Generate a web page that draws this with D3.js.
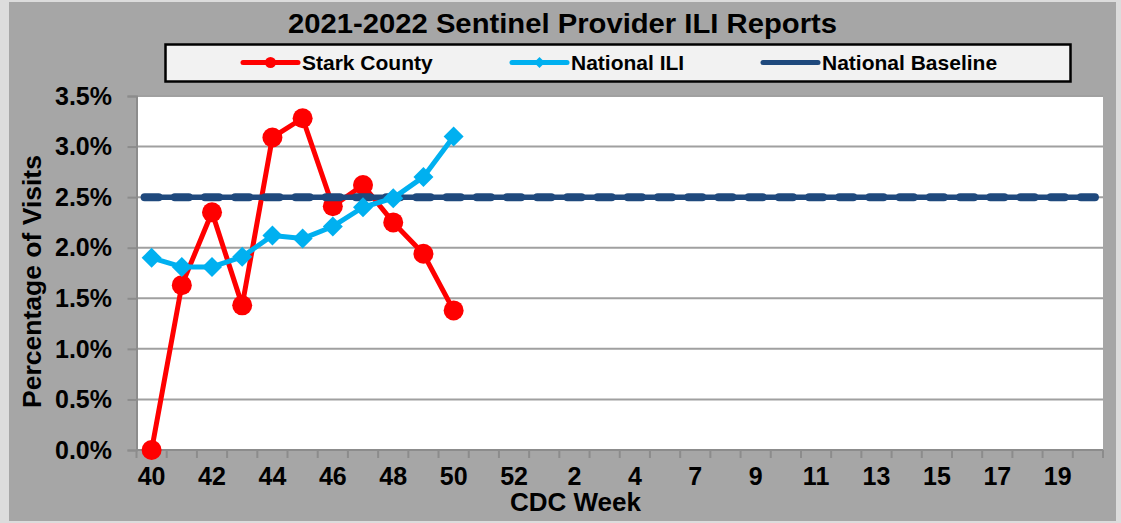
<!DOCTYPE html>
<html>
<head>
<meta charset="utf-8">
<script src="https://cdn.jsdelivr.net/npm/d3@7/dist/d3.min.js"></script>
<style>
html,body{margin:0;padding:0;background:#dcdcdc;}
svg{display:block;font-family:Arial,"Liberation Sans",sans-serif;}
</style>
</head>
<body>
<svg id="chart" width="1121" height="523"></svg>
<script>
const weeks = ["40","41","42","43","44","45","46","47","48","49","50","51","52",
  "1","2","3","4","5","7","8","9","10","11","12","13","14","15","16","17","18","19","20"];
const starkCounty = [0.00, 1.63, 2.35, 1.43, 3.09, 3.28, 2.41, 2.62, 2.25, 1.94, 1.38];
const nationalILI = [1.90, 1.81, 1.81, 1.91, 2.12, 2.09, 2.21, 2.40, 2.49, 2.70, 3.10];
const nationalBaseline = [2.5,2.5,2.5,2.5,2.5,2.5,2.5,2.5,2.5,2.5,2.5,2.5,2.5,2.5,2.5,2.5,
  2.5,2.5,2.5,2.5,2.5,2.5,2.5,2.5,2.5,2.5,2.5,2.5,2.5,2.5,2.5,2.5];
const yTicks = [0, 0.5, 1.0, 1.5, 2.0, 2.5, 3.0, 3.5];
const titleText = "2021-2022 Sentinel Provider ILI Reports";
const seriesNames = ["Stark County", "National ILI", "National Baseline"];

const svg = d3.select("#chart");
const W = 1121, H = 523;
const plot = {left: 136.5, right: 1103, top: 96, bottom: 450};
const gray = "#a6a6a6";
const red = "#ff0000", blue = "#00b0f0", navy = "#1f497d";

// backgrounds
svg.append("rect").attr("x",0).attr("y",0).attr("width",W).attr("height",H).attr("fill","#dcdcdc");
svg.append("rect").attr("x",9).attr("y",2).attr("width",1107).attr("height",519).attr("fill",gray);
svg.append("rect").attr("x",plot.left).attr("y",plot.top)
  .attr("width",plot.right-plot.left).attr("height",plot.bottom-plot.top).attr("fill","#ffffff");

const x = d3.scaleBand().domain(weeks).range([plot.left, plot.right]).padding(0);
const bw = x.bandwidth();
const cx = (i) => x(weeks[i]) + bw/2;
const y = d3.scaleLinear().domain([0, 3.5]).range([plot.bottom, plot.top]);

// gridlines
svg.append("g").selectAll("line").data(yTicks).join("line")
  .attr("x1",plot.left).attr("x2",plot.right)
  .attr("y1",d=>y(d)).attr("y2",d=>y(d))
  .attr("stroke","#a0a0a0").attr("stroke-width",2);

// y axis
const yAxis = d3.axisLeft(y).tickValues(yTicks).tickSize(9).tickPadding(15)
  .tickFormat(d => d3.format(".1f")(d) + "%");
const gy = svg.append("g").attr("transform",`translate(${plot.left},0)`).call(yAxis);
gy.select(".domain").attr("stroke","#8c8c8c").attr("stroke-width",2);
gy.selectAll(".tick line").attr("stroke","#8c8c8c").attr("stroke-width",2);
gy.selectAll(".tick text").attr("font-size",25).attr("font-weight","bold").attr("fill","#000")
  .attr("font-family","Arial, 'Liberation Sans', sans-serif").attr("dy","0.33em").attr("x",-24.5);

// x axis labels
const xAxis = d3.axisBottom(x).tickSize(0).tickSizeOuter(0)
  .tickFormat((d,i) => i % 2 === 0 ? d : "");
const gx = svg.append("g").attr("transform",`translate(0,${plot.bottom})`).call(xAxis);
gx.select(".domain").remove();
gx.selectAll(".tick text").attr("font-size",25).attr("font-weight","bold").attr("fill","#000")
  .attr("font-family","Arial, 'Liberation Sans', sans-serif").attr("y",35).attr("dy",0);
// x axis line and boundary ticks
const bounds = weeks.map(w => x(w)).concat([plot.right]);
svg.append("line").attr("x1",plot.left).attr("x2",plot.right)
  .attr("y1",plot.bottom).attr("y2",plot.bottom).attr("stroke","#8c8c8c").attr("stroke-width",2);
svg.append("g").selectAll("line").data(bounds).join("line")
  .attr("x1",d=>d).attr("x2",d=>d).attr("y1",plot.bottom).attr("y2",plot.bottom+8)
  .attr("stroke","#8c8c8c").attr("stroke-width",2);

// axis titles
svg.append("text").attr("x",575.5).attr("y",511).attr("text-anchor","middle")
  .attr("font-size",26).attr("font-weight","bold").text("CDC Week");
svg.append("text").attr("transform","translate(41,281.5) rotate(-90)").attr("text-anchor","middle")
  .attr("font-size",26.5).attr("font-weight","bold").text("Percentage of Visits");

// title
svg.append("text").attr("x",562.5).attr("y",33).attr("text-anchor","middle")
  .attr("font-size",27).attr("font-weight","bold")
  .attr("textLength",549).attr("lengthAdjust","spacingAndGlyphs").text(titleText);

// legend
svg.append("rect").attr("x",165.5).attr("y",44.5).attr("width",905).attr("height",37)
  .attr("fill","#f2f2f2").attr("stroke","#000").attr("stroke-width",2.5);

const line = d3.line().x((d,i)=>cx(i)).y(d=>y(d));
const diamondPath = (r) => `M0,${-r}L${r},0L0,${r}L${-r},0Z`;

// Stark County
svg.append("path").datum(starkCounty).attr("d",line).attr("fill","none")
  .attr("stroke",red).attr("stroke-width",5).attr("stroke-linejoin","round");
svg.append("g").selectAll("circle").data(starkCounty).join("circle")
  .attr("cx",(d,i)=>cx(i)).attr("cy",d=>y(d)).attr("r",10).attr("fill",red);

// National Baseline
svg.append("path").datum(nationalBaseline).attr("d",line).attr("fill","none")
  .attr("stroke",navy).attr("stroke-width",5.5).attr("stroke-linecap","round");
svg.append("g").selectAll("rect").data(nationalBaseline).join("rect")
  .attr("x",(d,i)=>cx(i)-11).attr("y",d=>y(d)-4).attr("width",22).attr("height",8)
  .attr("rx",4).attr("fill",navy);

// National ILI
svg.append("path").datum(nationalILI).attr("d",line).attr("fill","none")
  .attr("stroke",blue).attr("stroke-width",5).attr("stroke-linejoin","round");
svg.append("g").selectAll("path").data(nationalILI).join("path")
  .attr("transform",(d,i)=>`translate(${cx(i)},${y(d)})`)
  .attr("d",diamondPath(10)).attr("fill",blue);

// legend items
const legendItems = [
  {name: seriesNames[0], color: red, x1: 243, x2: 298, tx: 302, marker: "circle"},
  {name: seriesNames[1], color: blue, x1: 512, x2: 567, tx: 571, marker: "diamond"},
  {name: seriesNames[2], color: navy, x1: 763, x2: 818, tx: 822, marker: "none"}
];
const ly = 62.5;
const lg = svg.append("g");
legendItems.forEach(it => {
  lg.append("line").attr("x1",it.x1).attr("x2",it.x2).attr("y1",ly).attr("y2",ly)
    .attr("stroke",it.color).attr("stroke-width",5).attr("stroke-linecap","round");
  const mx = (it.x1+it.x2)/2;
  if (it.marker === "circle") lg.append("circle").attr("cx",mx).attr("cy",ly).attr("r",5.5).attr("fill",it.color);
  if (it.marker === "diamond") lg.append("path").attr("transform",`translate(${mx},${ly})`)
    .attr("d",diamondPath(5.5)).attr("fill",it.color);
  lg.append("text").attr("x",it.tx).attr("y",ly+7.5).attr("font-size",21).attr("font-weight","bold")
    .text(it.name);
});
</script>
</body>
</html>
